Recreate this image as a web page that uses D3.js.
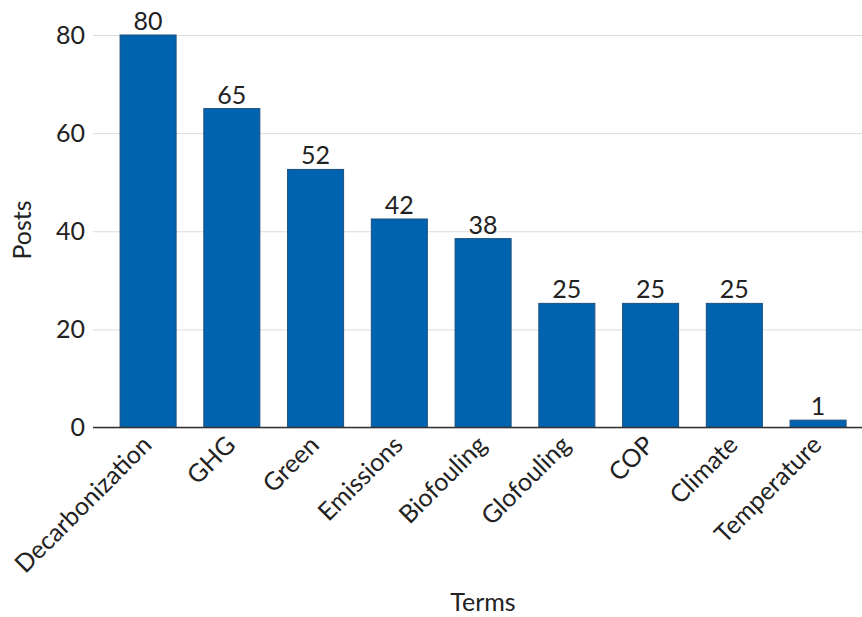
<!DOCTYPE html>
<html>
<head>
<meta charset="utf-8">
<script src="https://cdn.jsdelivr.net/npm/d3@7"></script>
<style>
  body { margin: 0; background: #fff; }
  text { font-family: Lato, "Open Sans", sans-serif; fill: #222; }
</style>
</head>
<body>
<svg id="chart" width="862" height="617"></svg>
<script>
const categories = ["Decarbonization", "GHG", "Green", "Emissions", "Biofouling", "Glofouling", "COP", "Climate", "Temperature"];
const values = [80, 65, 52.6, 42.5, 38.5, 25.3, 25.3, 25.3, 1.5];
const yTicks = [0, 20, 40, 60, 80];
const xTitle = "Terms";
const yTitle = "Posts";

(function () {
const svg = d3.select("#chart");
const mLeft = 93, mRight = 862, mTop = 35, mBottom = 427.5;
const fs = 25;

const x = d3.scaleBand()
  .domain(categories)
  .range([mLeft, mRight])
  .paddingInner(0.331)
  .paddingOuter(0.2565)
  .align(0.63);

const y = d3.scaleLinear().domain([0, 80]).range([mBottom, mTop]);

// grid + y labels
const yAxis = svg.append("g")
  .attr("transform", `translate(${mLeft},0)`)
  .call(d3.axisLeft(y).tickValues(yTicks).tickSize(-(mRight - mLeft)).tickPadding(8).tickFormat(d3.format("d")));
yAxis.select(".domain").remove();
yAxis.selectAll(".tick line").attr("stroke", "#dcdcdc").attr("stroke-width", 1);
yAxis.selectAll(".tick text").attr("font-size", fs).attr("fill", "#222").attr("font-family", "Lato, sans-serif");

const data = categories.map((c, i) => ({c, v: values[i]}));

// bars
svg.append("g").selectAll("rect")
  .data(data)
  .join("rect")
  .attr("x", d => x(d.c))
  .attr("y", d => y(d.v))
  .attr("width", x.bandwidth())
  .attr("height", d => y(0) - y(d.v))
  .attr("fill", "#0063b0")
  .attr("stroke", "#1d4f7e")
  .attr("stroke-width", 1);

// zero line
svg.append("line")
  .attr("x1", mLeft).attr("x2", mRight)
  .attr("y1", y(0)).attr("y2", y(0))
  .attr("stroke", "#333").attr("stroke-width", 1.5);

// value labels
svg.append("g").selectAll("text")
  .data(data)
  .join("text")
  .attr("x", d => x(d.c) + x.bandwidth() / 2)
  .attr("y", d => y(d.v) - 5)
  .attr("text-anchor", "middle")
  .attr("font-size", fs)
  .text(d => Math.floor(d.v));

// category labels
svg.append("g").selectAll("text")
  .data(categories)
  .join("text")
  .attr("transform", d => `translate(${x(d) + x.bandwidth() / 2 + 5},${mBottom + 19}) rotate(-45)`)
  .attr("text-anchor", "end")
  .attr("font-size", fs)
  .text(d => d);

// axis titles
svg.append("text")
  .attr("x", 483).attr("y", 611)
  .attr("text-anchor", "middle")
  .attr("font-size", fs)
  .text(xTitle);

svg.append("text")
  .attr("transform", `translate(31,230) rotate(-90)`)
  .attr("text-anchor", "middle")
  .attr("font-size", fs)
  .text(yTitle);
})();
</script>
</body>
</html>
